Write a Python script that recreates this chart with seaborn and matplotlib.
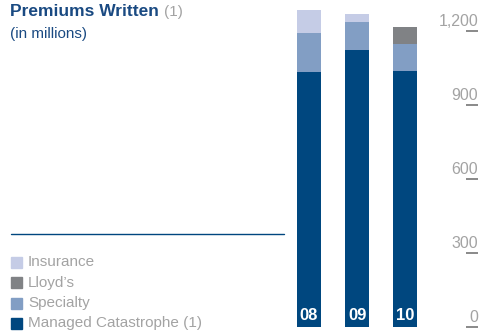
import numpy as np
import pandas as pd
import matplotlib
matplotlib.use("Agg")
import matplotlib.pyplot as plt
import seaborn as sns
from matplotlib.patches import Rectangle
from matplotlib.lines import Line2D

# Data (in millions)
years = ["08", "09", "10"]
managed_cat = [1034, 1123, 1038]
specialty = [158, 113, 109]
lloyds = [0, 0, 69]
insurance = [93, 33, 0]

y_ticks = [0, 300, 600, 900, 1200]
y_tick_labels = ["0", "300", "600", "900", "1,200"]

legend_labels = ["Insurance", "Lloyd\u2019s", "Specialty", "Managed Catastrophe (1)"]

C_MC = "#00477f"
C_SPEC = "#829ec4"
C_LLOYD = "#808285"
C_INS = "#c5cce6"
C_TEXT = "#a3a3a3"
C_RULE = "#8c8c8c"
C_TITLE = "#1a4a82"

W, H = 479, 331

sns.set_style("white")
plt.rcParams["font.family"] = ["Liberation Sans", "DejaVu Sans"]


def fx(px):
    return px / W


def fy(py):
    return 1 - py / H


df = pd.DataFrame({
    "year": years,
    "mc": managed_cat,
    "spec": specialty,
    "lloyds": lloyds,
    "ins": insurance,
})
df["c1"] = df["mc"]
df["c2"] = df["c1"] + df["spec"]
df["c3"] = df["c2"] + df["lloyds"]
df["c4"] = df["c3"] + df["ins"]

fig = plt.figure(figsize=(W / 100, H / 100), dpi=100)
ax_left, ax_right = 285, 466
ax_bottom, ax_top = 327, 5
ax = fig.add_axes([fx(ax_left), fy(ax_bottom), (ax_right - ax_left) / W,
                   (ax_bottom - ax_top) / H])
ax.patch.set_alpha(0)

# stacked bars drawn as overlapping cumulative totals
for col, c in [("c4", C_INS), ("c3", C_LLOYD), ("c2", C_SPEC), ("c1", C_MC)]:
    sns.barplot(data=df, x="year", y=col, color=c, width=0.5,
                saturation=1, ax=ax, linewidth=0)

# 48 px per category, first bar centred 24 px from the axes' left edge
px_per_cat = 48.1
y_max = 1306
ax.set_xlim(-0.5, -0.5 + (ax_right - ax_left) / px_per_cat)
ax.set_ylim(0, y_max)
ax.set_xlabel("")
ax.set_ylabel("")
ax.set_xticks([])
ax.set_yticks([])
for s in ax.spines.values():
    s.set_visible(False)

for i, yr in enumerate(years):
    ax.text(i, 45, yr, color="white", fontsize=12, fontweight="bold",
            ha="center", va="center")

# right-hand ticks: short filled rule with the label sitting on top of it
for v, lab in zip(y_ticks, y_tick_labels):
    py = ax_bottom - v / y_max * (ax_bottom - ax_top)
    fig.add_artist(Rectangle((fx(466), fy(py + 0.8)), 12 / W, 1.6 / H,
                             facecolor=C_RULE, edgecolor="none",
                             transform=fig.transFigure, zorder=6))
    fig.text(fx(478), fy(py - 2), lab, ha="right", va="bottom",
             fontsize=11.5, color=C_TEXT)

# title
t = fig.text(fx(10), fy(12), "Premiums Written", fontsize=12.5, fontweight="bold",
             color=C_TITLE, va="center", ha="left")
fig.canvas.draw()
bb = t.get_window_extent()
fig.text((bb.x1 + 5) / W, fy(12), "(1)", fontsize=11, color=C_TEXT,
         va="center", ha="left")
fig.text(fx(10), fy(34), "(in millions)", fontsize=11, color=C_TITLE,
         va="center", ha="left")

# rule above the legend
fig.add_artist(Line2D([fx(11), fx(284)], [fy(234), fy(234)], color=C_MC, lw=1))

# legend
for k, (lab, c) in enumerate(zip(legend_labels, [C_INS, C_LLOYD, C_SPEC, C_MC])):
    yc = 262 + k * 20.5
    fig.add_artist(Rectangle((fx(11), fy(yc + 5.5)), 11 / W, 11 / H,
                             color=c, transform=fig.transFigure))
    fig.text(fx(28), fy(yc), lab, fontsize=11, color=C_TEXT,
             va="center", ha="left")

fig.savefig("out.png", dpi=100)
